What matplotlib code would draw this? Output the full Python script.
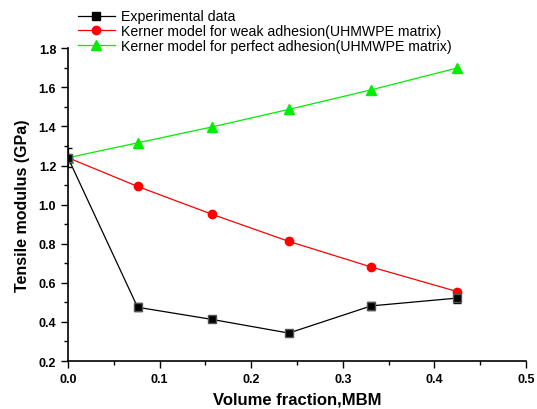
import matplotlib
matplotlib.use('Agg')
import matplotlib.pyplot as plt
from matplotlib.lines import Line2D
from matplotlib.ticker import MultipleLocator

plt.rcParams['font.family'] = ['Liberation Sans', 'DejaVu Sans']

# data
vf = [0.0, 0.076, 0.157, 0.241, 0.331, 0.425]
exp_mod = [1.24, 0.475, 0.413, 0.343, 0.482, 0.522]
exp_err = [0.05, 0.02, 0.015, 0.01, 0.02, 0.025]
weak_mod = [1.24, 1.093, 0.951, 0.812, 0.681, 0.555]
perfect_mod = [1.24, 1.316, 1.397, 1.487, 1.587, 1.699]

labels = ['Experimental data',
          'Kerner model for weak adhesion(UHMWPE matrix)',
          'Kerner model for perfect adhesion(UHMWPE matrix)']

fig = plt.figure(figsize=(5.37, 4.10), dpi=100)
ax = fig.add_axes([0.1266, 0.117, 0.853, 0.763])

ax.errorbar(vf, exp_mod, yerr=exp_err, color='black', marker='s', ms=6,
            mec='#555555', lw=0.9, capsize=3, elinewidth=0.9)
weak_line, = ax.plot(vf, weak_mod, color='red', marker='o', ms=6, lw=0.9)
perf_line, = ax.plot(vf, perfect_mod, color='#00ee00', marker='^', ms=7, lw=0.9)
exp_handle = Line2D([], [], color='black', marker='s', ms=6, lw=0.9)

ax.set_xlim(0, 0.5)
ax.set_ylim(0.2, 1.8)
ax.xaxis.set_major_locator(MultipleLocator(0.1))
ax.xaxis.set_minor_locator(MultipleLocator(0.05))
ax.yaxis.set_major_locator(MultipleLocator(0.2))
ax.yaxis.set_minor_locator(MultipleLocator(0.1))
ax.tick_params(which='both', direction='out', width=1)
ax.tick_params(which='major', length=5, labelsize=9)
ax.tick_params(which='minor', length=3)
for lab in ax.get_xticklabels() + ax.get_yticklabels():
    lab.set_fontweight('bold')

ax.spines['top'].set_visible(False)
ax.spines['right'].set_visible(False)
ax.spines['left'].set_linewidth(1.2)
ax.spines['bottom'].set_linewidth(1.2)

ax.set_xlabel('Volume fraction,MBM', fontsize=12, fontweight='bold', labelpad=5)
ax.set_ylabel('Tensile modulus (GPa)', fontsize=11.5, fontweight='bold', labelpad=6)

ax.legend([exp_handle, weak_line, perf_line], labels,
          loc='lower left', bbox_to_anchor=(0.022, 0.985), frameon=False,
          fontsize=10.2, handlelength=2.6, borderaxespad=0, borderpad=0,
          labelspacing=0.05, handletextpad=0.4)

fig.savefig('out.png', dpi=100)
